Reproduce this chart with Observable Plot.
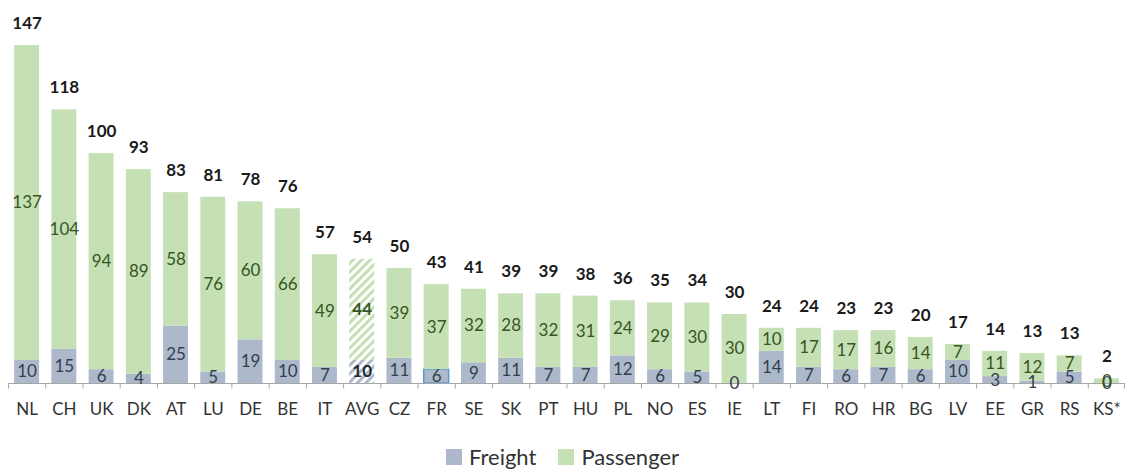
<!DOCTYPE html>
<html>
<head>
<meta charset="utf-8">
<script src="https://cdn.jsdelivr.net/npm/d3@7"></script>
<script src="https://cdn.jsdelivr.net/npm/@observablehq/plot@0.6"></script>
<style>
  html, body { margin: 0; padding: 0; background: #fff; }
  body { width: 1125px; height: 473px; overflow: hidden; font-family: Lato, "Open Sans", sans-serif; }
  #legend { display: flex; justify-content: center; align-items: center; gap: 22px; height: 33px; font-size: 22px; color: #333; margin-left: 0px; }
  #legend .item { display: flex; align-items: center; gap: 7px; }
  #legend .sw { width: 16px; height: 16px; display: inline-block; }
</style>
</head>
<body>
<div id="chart"></div>
<div id="legend">
  <div class="item"><span class="sw" style="background:#ADB9CA"></span>Freight</div>
  <div class="item"><span class="sw" style="background:#C5E0B4"></span>Passenger</div>
</div>
<script>
const categories = ["NL","CH","UK","DK","AT","LU","DE","BE","IT","AVG","CZ","FR","SE","SK","PT","HU","PL","NO","ES","IE","LT","FI","RO","HR","BG","LV","EE","GR","RS","KS*"];
const freight   = [10,15,6,4,25,5,19,10,7,10,11,6,9,11,7,7,12,6,5,0,14,7,6,7,6,10,3,1,5,0];
const passenger = [137,104,94,89,58,76,60,66,49,44,39,37,32,28,32,31,24,29,30,30,10,17,17,16,14,7,11,12,7,2];
const passengerLabels = ["137","104","94","89","58","76","60","66","49","44","39","37","32","28","32","31","24","29","30","30","10","17","17","16","14","7","11","12","7","0"];
const totals    = [147,118,100,93,83,81,78,76,57,54,50,43,41,39,39,38,36,35,34,30,24,24,23,23,20,17,14,13,13,2];

const FREIGHT = "#ADB9CA", PASS = "#C5E0B4";
const rows = categories.map((c, i) => ({
  cat: c, freight: freight[i], passenger: passenger[i], plabel: passengerLabels[i], total: totals[i],
  avg: c === "AVG", fr: c === "FR"
}));
const normal = rows.filter(d => !d.avg);
const avgRows = rows.filter(d => d.avg);

const W = 1125, H = 440, mL = 8, mR = 0, mT = 45, mB = 57;
const step = (W - mL - mR) / categories.length;
const FONT = "Lato, 'Open Sans', sans-serif";

const plot = Plot.plot({
  width: W, height: H,
  marginLeft: mL, marginRight: mR, marginTop: mT, marginBottom: mB,
  style: { fontFamily: FONT, background: "#fff" },
  x: { domain: categories, paddingInner: 0.33, paddingOuter: 0.165, round: false, label: null },
  y: { domain: [0, 147], axis: null },
  marks: [
    Plot.barY(rows, {x: "cat", y1: 0, y2: "freight",
      fill: d => d.avg ? "url(#hatchF)" : FREIGHT,
      stroke: d => d.fr ? "#5B9BD5" : "none", strokeWidth: 1.5}),
    Plot.barY(rows, {x: "cat", y1: "freight", y2: d => d.freight + d.passenger,
      fill: d => d.avg ? "url(#hatchP)" : PASS}),
    Plot.ruleY([0], {stroke: "#a6a6a6", strokeWidth: 1}),
    Plot.ruleX(categories, {x: d => d, dx: -step / 2, y1: 0, y2: -2.4, stroke: "#a6a6a6"}),
    Plot.ruleX([categories[categories.length - 1]], {x: d => d, dx: step / 2 - 1, y1: 0, y2: -2.4, stroke: "#a6a6a6"}),
    Plot.text(normal, {x: "cat", y: d => d.freight / 2, text: d => String(d.freight),
      fill: "#333F50", fontSize: 17}),
    Plot.text(avgRows, {x: "cat", y: d => d.freight / 2, text: d => String(d.freight),
      fill: "#222A35", fontSize: 17, fontWeight: "bold"}),
    Plot.text(normal, {x: "cat", y: d => d.freight + d.passenger / 2, text: "plabel",
      fill: "#375623", fontSize: 17}),
    Plot.text(avgRows, {x: "cat", y: d => d.freight + d.passenger / 2, text: "plabel",
      fill: "#375623", fontSize: 17, fontWeight: "bold"}),
    Plot.text(rows, {x: "cat", y: d => d.freight + d.passenger, text: d => String(d.total),
      dy: -22, fill: "#1a1a1a", fontSize: 17, fontWeight: "bold"}),
    Plot.axisX({tickSize: 0, tickPadding: 19, fontSize: 17, color: "#333", label: null})
  ]
});

const svgNS = "http://www.w3.org/2000/svg";
const defs = document.createElementNS(svgNS, "defs");
defs.innerHTML = `
  <pattern id="hatchP" patternUnits="userSpaceOnUse" width="6" height="6" patternTransform="rotate(45)">
    <rect width="6" height="6" fill="#ffffff"/>
    <rect width="3" height="6" fill="${PASS}"/>
  </pattern>
  <pattern id="hatchF" patternUnits="userSpaceOnUse" width="6" height="6" patternTransform="rotate(45)">
    <rect width="6" height="6" fill="#ffffff"/>
    <rect width="3" height="6" fill="${FREIGHT}"/>
  </pattern>`;
plot.insertBefore(defs, plot.firstChild);
document.getElementById("chart").appendChild(plot);
</script>
</body>
</html>
